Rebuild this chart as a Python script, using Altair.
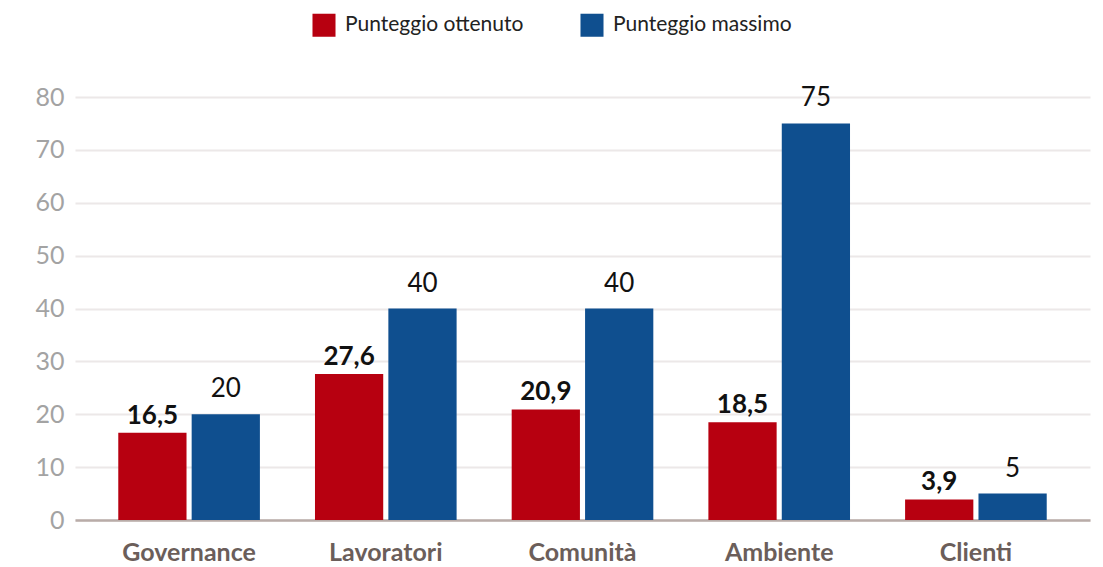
import altair as alt
import pandas as pd

categorie = ["Governance", "Lavoratori", "Comunità", "Ambiente", "Clienti"]
ottenuto = [16.5, 27.6, 20.9, 18.5, 3.9]
massimo = [20, 40, 40, 75, 5]
serie = ["Punteggio ottenuto", "Punteggio massimo"]
colori = ["#b70010", "#0f4f8f"]
y_ticks = [0, 10, 20, 30, 40, 50, 60, 70, 80]

rows = []
for c, o, m in zip(categorie, ottenuto, massimo):
    rows.append({"categoria": c, "serie": serie[0], "valore": o,
                 "etichetta": f"{o:g}".replace(".", ",")})
    rows.append({"categoria": c, "serie": serie[1], "valore": m,
                 "etichetta": f"{m:g}".replace(".", ",")})
df = pd.DataFrame(rows)

FONT = "Lato"

x = alt.X("categoria:N", sort=categorie, title=None,
          scale=alt.Scale(paddingInner=0.28, paddingOuter=0.22),
          axis=alt.Axis(labelAngle=0, labelFont=FONT, labelFontSize=25,
                        labelFontWeight="bold", labelColor="#6b5e5a",
                        labelPadding=20, ticks=False, domain=True,
                        domainColor="#b9aca8", domainWidth=2.5, grid=False))
xo = alt.XOffset("serie:N", sort=serie,
                 scale=alt.Scale(domain=serie, paddingInner=0.07))
y = alt.Y("valore:Q", title=None,
          scale=alt.Scale(domain=[0, 80], nice=False),
          axis=alt.Axis(values=y_ticks, labelFont=FONT, labelFontSize=25,
                        labelColor="#a3a3a3", labelPadding=11, ticks=False,
                        domain=False, grid=True, gridColor="#ece8e8",
                        gridWidth=2))

bars = alt.Chart(df).mark_bar().encode(
    x=x, xOffset=xo, y=y,
    color=alt.Color("serie:N", sort=serie,
                    scale=alt.Scale(domain=serie, range=colori),
                    legend=alt.Legend(title=None, orient="none",
                                      legendX=237, legendY=-84,
                                      direction="horizontal",
                                      symbolType="square", symbolSize=530,
                                      symbolStrokeWidth=0, labelLimit=0,
                                      labelFont=FONT, labelFontSize=21,
                                      labelColor="#222222", labelOffset=9,
                                      columnPadding=56)),
)

red_text = alt.Chart(df).transform_filter(
    alt.datum.serie == serie[0]
).mark_text(font=FONT, fontSize=26, fontWeight="bold", color="#111111",
            baseline="alphabetic", dy=-9).encode(
    x=alt.X("categoria:N", sort=categorie), xOffset=xo,
    y="valore:Q", text="etichetta:N")

blue_text = alt.Chart(df).transform_filter(
    alt.datum.serie == serie[1]
).mark_text(font=FONT, fontSize=26, fontWeight="normal", color="#111111",
            baseline="alphabetic", dy=-17).encode(
    x=alt.X("categoria:N", sort=categorie), xOffset=xo,
    y="valore:Q", text="etichetta:N")

chart = alt.layer(bars, red_text, blue_text).properties(
    width=1015, height=423,
    autosize=alt.AutoSizeParams(type="none"),
    padding={"left": 67, "top": 89, "right": 5, "bottom": 45},
).configure_view(stroke=None)

chart.save("out.html", embed_options={"renderer": "svg", "actions": False})
